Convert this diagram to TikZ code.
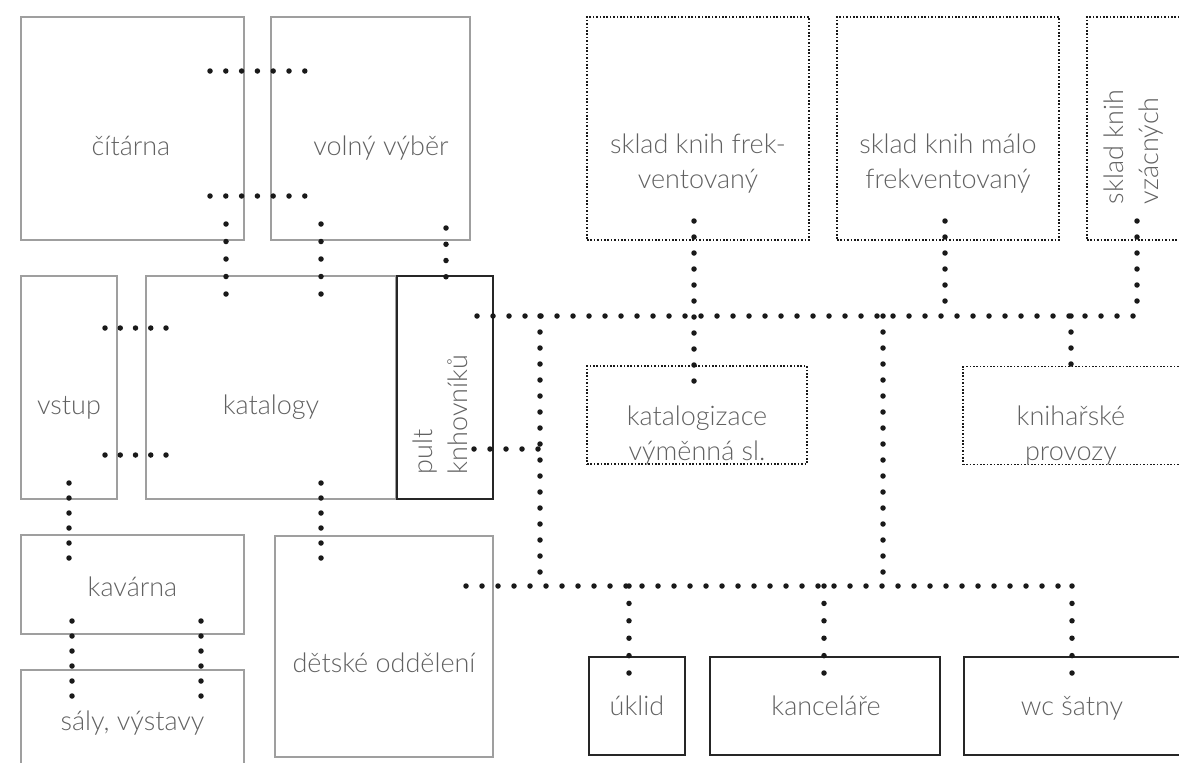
\documentclass[tikz,border=0pt]{standalone}
\usepackage{fontspec}
\setmainfont{Lato}[UprightFont={* Light}]
\usetikzlibrary{positioning}

\begin{document}
\begin{tikzpicture}[x=1pt, y=-1pt,
	room/.style={draw=gray!75, line width=2pt, inner sep=0pt},
	desk/.style={draw=black!85, line width=2.5pt, inner sep=0pt},
	store/.style={draw=black!90, line width=1.6pt, dash pattern=on 1.6pt off 1.8pt, inner sep=0pt},
	txt/.style={text=black!62, inner sep=0pt, align=center, font=\fontsize{27}{35}\selectfont},
	dots/.style={draw=black!90, line width=5.5pt, line cap=round, dash pattern=on 0pt off #1},
	dots/.default=16pt]
	\useasboundingbox (0,0) rectangle (1179,763);

	\node[room, minimum width=223pt, minimum height=223pt] (CIT) at (132.5,128.5) {};
	\node[room, minimum width=199pt, minimum height=223pt, right of=CIT, node distance=238pt] (VOL) {};
	\node[room, minimum width=96pt, minimum height=223pt] (VST) at (69,387.5) {};
	\node[room, minimum width=250pt, minimum height=223pt, right of=VST, node distance=202pt] (KAT) {};
	\node[desk, minimum width=96pt, minimum height=223pt, right of=KAT, node distance=174pt] (PULT) {};
	\node[room, minimum width=223pt, minimum height=99pt] (KAV) at (132.5,584.5) {};
	\node[room, minimum width=223pt, minimum height=223pt] (SAL) at (132.5,781.5) {};
	\node[room, minimum width=218pt, minimum height=221pt] (DET) at (384,646.5) {};

	\node[store, minimum width=222pt, minimum height=223pt] (SF) at (698,128.5) {};
	\node[store, minimum width=222pt, minimum height=223pt, right of=SF, node distance=250pt] (SM) {};
	\node[store, minimum width=222pt, minimum height=223pt, right of=SM, node distance=250pt] (SV) {};
	\node[store, minimum width=220pt, minimum height=98pt] (KZ) at (697,415) {};
	\node[store, minimum width=222pt, minimum height=98pt] (KP) at (1074,415.5) {};

	\node[desk, minimum width=96pt, minimum height=98pt] (UK) at (637,706) {};
	\node[desk, minimum width=230pt, minimum height=98pt] (KN) at (825,706) {};
	\node[desk, minimum width=226pt, minimum height=98pt] (WC) at (1077,706) {};

	\node[txt, anchor=base] (CITt) at (131,155) {čítárna};
	\node[txt, anchor=base] (VOLt) at (381,155) {volný výběr};
	\node[txt, anchor=base] (VSTt) at (69,414) {vstup};
	\node[txt, anchor=base] (KATt) at (271,414) {katalogy};
	\node[txt, rotate=90, align=left] (PULTt) at (440.5,414.5) {pult\\knhovníků};
	\node[txt, anchor=base] (KAVt) at (132.5,596) {kavárna};
	\node[txt, anchor=base] (SALt) at (132.5,730) {sály, výstavy};
	\node[txt, anchor=base] (DETt) at (384,672) {dětské oddělení};
	\node[txt] (SFt) at (698,164) {sklad knih frek-\\ventovaný};
	\node[txt] (SMt) at (948,164) {sklad knih málo\\frekventovaný};
	\node[txt, rotate=90, align=left] (SVt) at (1134,147) {sklad knih\\vzácných};
	\node[txt] (KZt) at (697,436) {katalogizace\\výměnná sl.};
	\node[txt] (KPt) at (1071,436) {knihařské\\provozy};
	\node[txt, anchor=base] (UKt) at (637,715) {úklid};
	\node[txt, anchor=base] (KNt) at (826,715) {kanceláře};
	\node[txt, anchor=base] (WCt) at (1072,715) {wc šatny};

	\coordinate (CV1a) at (210,71);
	\coordinate (CV1b) at (305,71);
	\coordinate (CV2a) at (210,196);
	\coordinate (CV2b) at (305,196);
	\draw[dots=15.8pt] (CV1a) -- (CV1b);
	\draw[dots=15.8pt] (CV2a) -- (CV2b);

	\coordinate (CK1a) at (226,224);
	\coordinate (CK1b) at (226,294);
	\coordinate (VK1a) at (321,224);
	\coordinate (VK1b) at (321,294);
	\coordinate (VP1a) at (446,228);
	\coordinate (VP1b) at (446,293);
	\draw[dots=17.5pt] (CK1a) -- (CK1b);
	\draw[dots=17.5pt] (VK1a) -- (VK1b);
	\draw[dots=16.25pt] (VP1a) -- (VP1b);

	\coordinate (SK1a) at (105,328);
	\coordinate (SK1b) at (166,328);
	\coordinate (SK2a) at (105,455);
	\coordinate (SK2b) at (166,455);
	\draw[dots=15.25pt] (SK1a) -- (SK1b);
	\draw[dots=15.25pt] (SK2a) -- (SK2b);

	\coordinate (SKVa) at (69,483);
	\coordinate (SKVb) at (69,558);
	\coordinate (KDa) at (321,483);
	\coordinate (KDb) at (321,558);
	\draw[dots=15pt] (SKVa) -- (SKVb);
	\draw[dots=15pt] (KDa) -- (KDb);

	\coordinate (KS1a) at (72,621);
	\coordinate (KS1b) at (72,696);
	\coordinate (KS2a) at (201,621);
	\coordinate (KS2b) at (201,696);
	\draw[dots=15pt] (KS1a) -- (KS1b);
	\draw[dots=15pt] (KS2a) -- (KS2b);

	\coordinate (M1) at (477,316);
	\coordinate (M2) at (1137,316);
	\coordinate (J0) at (540,316);
	\coordinate (J1) at (540,449);
	\coordinate (J2) at (540,586);
	\coordinate (P1) at (474,449);
	\coordinate (L1) at (466,586);
	\coordinate (L2) at (1072,586);
	\coordinate (J3) at (883,316);
	\coordinate (J4) at (883,586);
	\draw[dots] (M1) -- (M2);
	\draw[dots] (P1) -- (J1);
	\draw[dots] (J0) -- (J2);
	\draw[dots] (L1) -- (L2);
	\draw[dots] (J3) -- (J4);

	\coordinate (F1) at (694,221);
	\coordinate (F2) at (694,385);
	\coordinate (S1) at (945,221);
	\coordinate (S2) at (945,316);
	\coordinate (V1) at (1137,221);
	\coordinate (V2) at (1137,316);
	\coordinate (B1) at (1071,316);
	\coordinate (B2) at (1071,379);
	\draw[dots] (F1) -- (F2);
	\draw[dots] (S1) -- (S2);
	\draw[dots] (V1) -- (V2);
	\draw[dots] (B1) -- (B2);

	\coordinate (U1) at (629,586);
	\coordinate (U2) at (629,673);
	\coordinate (N1) at (824,586);
	\coordinate (N2) at (824,673);
	\coordinate (W1) at (1072,586);
	\coordinate (W2) at (1072,673);
	\draw[dots=17.4pt] (U1) -- (U2);
	\draw[dots=17.4pt] (N1) -- (N2);
	\draw[dots=17.4pt] (W1) -- (W2);
\end{tikzpicture}
\end{document}
